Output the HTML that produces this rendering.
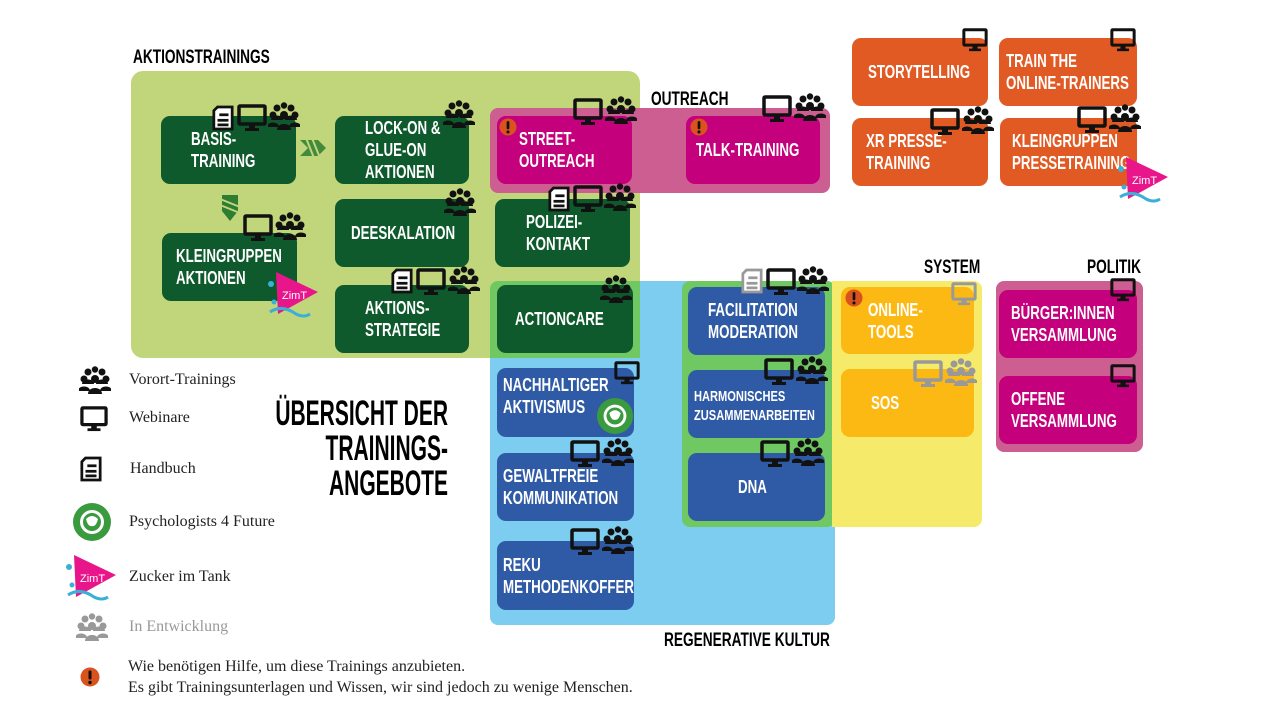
<!DOCTYPE html>
<html><head><meta charset="utf-8">
<style>
body{margin:0;width:1280px;height:720px;background:#fff;position:relative;overflow:hidden;font-family:"Liberation Sans",sans-serif;}
.a{position:absolute;}
.bg{position:absolute;border-radius:12px;}
.b{position:absolute;border-radius:9px;color:#fff;font-weight:bold;font-size:18px;line-height:22px;display:flex;align-items:center;box-sizing:border-box;}
.b span{display:inline-block;transform:scaleX(.74);transform-origin:0 50%;white-space:nowrap}
.g{background:#0e5a2c}.m{background:#c4007c}.u{background:#2f5aa6}.y{background:#fdb913}.o{background:#e15a23}
.h{position:absolute;font-weight:bold;font-size:19px;color:#000;transform:scaleX(.72);transform-origin:0 0;white-space:nowrap}
.lg{position:absolute;font-family:"Liberation Serif",serif;font-size:16px;color:#222;}
svg.i{position:absolute;overflow:visible}
</style></head><body>
<svg width="0" height="0" style="position:absolute">
<defs>
<symbol id="mon" viewBox="0 0 30 28"><rect x="2" y="2" width="26" height="18" fill="none" stroke="currentColor" stroke-width="3.5" rx="1"/><rect x="12" y="20" width="6" height="5" fill="currentColor"/><rect x="8" y="24" width="14" height="3" fill="currentColor"/></symbol>
<symbol id="ppl" viewBox="0 0 32 28"><g fill="currentColor"><circle cx="9" cy="6" r="3.5"/><circle cx="23" cy="6" r="3.5"/><circle cx="16" cy="3.5" r="3.2"/><path d="M3 18c0-6 12-6 12 0z"/><path d="M17 18c0-6 12-6 12 0z"/><circle cx="5" cy="13" r="3.5"/><circle cx="27" cy="13" r="3.5"/><circle cx="16" cy="13" r="4"/><path d="M-1 25c0-6 12-6 12 0z"/><path d="M21 25c0-6 12-6 12 0z"/><path d="M9 28c0-8 14-8 14 0z"/></g></symbol>
<symbol id="doc" viewBox="0 0 24 28"><path d="M6 2h16v24H2V6z" fill="#fff" stroke="currentColor" stroke-width="3"/><rect x="8" y="9" width="10" height="3" fill="currentColor"/><rect x="6" y="15" width="12" height="3" fill="currentColor"/><rect x="6" y="20" width="12" height="3" fill="currentColor"/></symbol>
<symbol id="exc" viewBox="0 0 20 20"><circle cx="10" cy="10" r="9.5" fill="#d9531e"/><rect x="8.5" y="3.5" width="3" height="9" rx="1.2" fill="#111"/><circle cx="10" cy="15.5" r="1.7" fill="#111"/></symbol>
<symbol id="zimt" viewBox="0 0 50 50"><path d="M8 0 L50 20 L10 42z" fill="#e8168a"/><text x="14" y="27" font-size="11" fill="#fff" font-family="Liberation Sans">ZimT</text><path d="M2 40 q12 -8 26 2 q8 4 14 0" stroke="#3ab0d8" stroke-width="3" fill="none"/><circle cx="3" cy="12" r="3" fill="#3ab0d8"/><circle cx="6" cy="30" r="2.5" fill="#3ab0d8"/></symbol>
<symbol id="p4f" viewBox="0 0 40 40"><circle cx="20" cy="20" r="19" fill="#3a9b3e"/><circle cx="20" cy="20" r="12" fill="#fff"/><circle cx="20" cy="20" r="9" fill="#3a9b3e"/><path d="M14 17q6-6 12 0q-2 8-6 7q-4 1-6-7z" fill="#fff"/></symbol>
</defs></svg>

<div class="bg" style="left:131px;top:71px;width:509px;height:287px;background:#c1d67a"></div>
<div class="bg" style="left:490px;top:108px;width:340px;height:85px;background:#cc5e92;border-radius:8px"></div>
<div class="bg" style="left:490px;top:281px;width:345px;height:344px;background:#7ccdf0;border-radius:8px"></div>
<div class="bg" style="left:490px;top:281px;width:150px;height:77px;background:#6fc862;border-radius:8px 0 0 0"></div>
<div class="bg" style="left:682px;top:281px;width:153px;height:246px;background:#6fc862;border-radius:8px"></div>
<div class="bg" style="left:832px;top:281px;width:150px;height:246px;background:#f5ea6a;border-radius:0 8px 8px 0"></div>
<div class="bg" style="left:996px;top:281px;width:147px;height:171px;background:#cc5e92;border-radius:8px"></div>

<div class="h" style="left:133px;top:47px">AKTIONSTRAININGS</div>
<div class="h" style="left:651px;top:89px">OUTREACH</div>
<div class="h" style="left:924px;top:257px">SYSTEM</div>
<div class="h" style="left:1087px;top:257px">POLITIK</div>
<div class="h" style="left:664px;top:630px">REGENERATIVE KULTUR</div>

<div class="b g" style="left:161px;top:116px;width:135px;height:68px;padding-left:30px"><span>BASIS-<br>TRAINING</span></div>
<div class="b g" style="left:335px;top:116px;width:134px;height:68px;padding-left:30px"><span>LOCK-ON &amp;<br>GLUE-ON<br>AKTIONEN</span></div>
<div class="b g" style="left:162px;top:233px;width:135px;height:68px;padding-left:14px"><span>KLEINGRUPPEN<br>AKTIONEN</span></div>
<div class="b g" style="left:335px;top:199px;width:134px;height:68px;padding-left:16px"><span>DEESKALATION</span></div>
<div class="b g" style="left:335px;top:285px;width:134px;height:68px;padding-left:30px"><span>AKTIONS-<br>STRATEGIE</span></div>
<div class="b g" style="left:495px;top:199px;width:135px;height:68px;padding-left:31px"><span>POLIZEI-<br>KONTAKT</span></div>
<div class="b g" style="left:497px;top:285px;width:136px;height:68px;padding-left:18px"><span>ACTIONCARE</span></div>
<div class="b m" style="left:497px;top:116px;width:135px;height:68px;padding-left:22px"><span>STREET-<br>OUTREACH</span></div>
<div class="b m" style="left:686px;top:116px;width:134px;height:68px;padding-left:10px"><span>TALK-TRAINING</span></div>

<svg class="i" style="left:300px;top:138px" width="30" height="20"><g fill="#2e7d32"><path d="M0 2h18l8 8-8 8H0l8-8z" opacity=".85"/></g><g stroke="#c1d67a" stroke-width="2"><line x1="6" y1="0" x2="14" y2="20"/><line x1="12" y1="0" x2="20" y2="20"/></g></svg>
<svg class="i" style="left:220px;top:195px" width="20" height="28"><path d="M2 0h16v16l-8 10l-8-10z" fill="#2e7d32"/><g stroke="#c1d67a" stroke-width="2"><line x1="0" y1="4" x2="20" y2="12"/><line x1="0" y1="10" x2="20" y2="18"/></g></svg>

<div class="b o" style="left:852px;top:38px;width:136px;height:68px;padding-left:16px"><span>STORYTELLING</span></div>
<div class="b o" style="left:999px;top:38px;width:138px;height:68px;padding-left:7px"><span>TRAIN THE<br>ONLINE-TRAINERS</span></div>
<div class="b o" style="left:852px;top:118px;width:136px;height:68px;padding-left:14px"><span>XR PRESSE-<br>TRAINING</span></div>
<div class="b o" style="left:1000px;top:118px;width:137px;height:68px;padding-left:12px"><span>KLEINGRUPPEN<br>PRESSETRAINING</span></div>

<div class="b u" style="left:497px;top:368px;width:137px;height:69px;padding-left:6px;align-items:flex-start;padding-top:6px"><span>NACHHALTIGER<br>AKTIVISMUS</span></div>
<div class="b u" style="left:497px;top:453px;width:137px;height:68px;padding-left:6px"><span>GEWALTFREIE<br>KOMMUNIKATION</span></div>
<div class="b u" style="left:497px;top:541px;width:137px;height:69px;padding-left:6px"><span>REKU<br>METHODENKOFFER</span></div>
<div class="b u" style="left:688px;top:287px;width:137px;height:68px;padding-left:20px"><span>FACILITATION<br>MODERATION</span></div>
<div class="b u" style="left:688px;top:370px;width:137px;height:68px;padding-left:6px;font-size:15px;line-height:19px;padding-top:4px"><span>HARMONISCHES<br>ZUSAMMENARBEITEN</span></div>
<div class="b u" style="left:688px;top:453px;width:137px;height:68px;padding-left:50px"><span>DNA</span></div>

<div class="b y" style="left:841px;top:287px;width:133px;height:67px;padding-left:27px"><span>ONLINE-<br>TOOLS</span></div>
<div class="b y" style="left:841px;top:369px;width:133px;height:68px;padding-left:30px"><span>SOS</span></div>

<div class="b m" style="left:999px;top:290px;width:138px;height:68px;padding-left:12px"><span>BÜRGER:INNEN<br>VERSAMMLUNG</span></div>
<div class="b m" style="left:999px;top:376px;width:138px;height:68px;padding-left:12px"><span>OFFENE<br>VERSAMMLUNG</span></div>

<svg class="i" style="left:212px;top:105px;color:#111" width="22" height="26"><use href="#doc"/></svg>
<svg class="i" style="left:237px;top:104px;color:#111" width="30" height="28"><use href="#mon"/></svg>
<svg class="i" style="left:268px;top:102px;color:#111" width="32" height="28"><use href="#ppl"/></svg>
<svg class="i" style="left:443px;top:100px;color:#111" width="32" height="28"><use href="#ppl"/></svg>
<svg class="i" style="left:243px;top:214px;color:#111" width="30" height="28"><use href="#mon"/></svg>
<svg class="i" style="left:274px;top:212px;color:#111" width="32" height="28"><use href="#ppl"/></svg>
<svg class="i" style="left:444px;top:188px;color:#111" width="32" height="28"><use href="#ppl"/></svg>
<svg class="i" style="left:391px;top:268px;color:#111" width="22" height="26"><use href="#doc"/></svg>
<svg class="i" style="left:416px;top:268px;color:#111" width="30" height="28"><use href="#mon"/></svg>
<svg class="i" style="left:448px;top:266px;color:#111" width="32" height="28"><use href="#ppl"/></svg>
<svg class="i" style="left:573px;top:98px;color:#111" width="30" height="28"><use href="#mon"/></svg>
<svg class="i" style="left:605px;top:96px;color:#111" width="32" height="28"><use href="#ppl"/></svg>
<svg class="i" style="left:548px;top:186px;color:#111" width="22" height="26"><use href="#doc"/></svg>
<svg class="i" style="left:573px;top:185px;color:#111" width="30" height="28"><use href="#mon"/></svg>
<svg class="i" style="left:604px;top:183px;color:#111" width="32" height="28"><use href="#ppl"/></svg>
<svg class="i" style="left:600px;top:275px;color:#111" width="32" height="28"><use href="#ppl"/></svg>
<svg class="i" style="left:762px;top:95px;color:#111" width="30" height="28"><use href="#mon"/></svg>
<svg class="i" style="left:794px;top:93px;color:#111" width="32" height="28"><use href="#ppl"/></svg>
<svg class="i" style="left:962px;top:28px;color:#111" width="26" height="24"><use href="#mon"/></svg>
<svg class="i" style="left:1110px;top:28px;color:#111" width="26" height="24"><use href="#mon"/></svg>
<svg class="i" style="left:930px;top:108px;color:#111" width="30" height="28"><use href="#mon"/></svg>
<svg class="i" style="left:962px;top:106px;color:#111" width="32" height="28"><use href="#ppl"/></svg>
<svg class="i" style="left:1077px;top:106px;color:#111" width="30" height="28"><use href="#mon"/></svg>
<svg class="i" style="left:1109px;top:104px;color:#111" width="32" height="28"><use href="#ppl"/></svg>
<svg class="i" style="left:614px;top:361px;color:#111" width="26" height="24"><use href="#mon"/></svg>
<svg class="i" style="left:570px;top:440px;color:#111" width="30" height="28"><use href="#mon"/></svg>
<svg class="i" style="left:602px;top:438px;color:#111" width="32" height="28"><use href="#ppl"/></svg>
<svg class="i" style="left:570px;top:528px;color:#111" width="30" height="28"><use href="#mon"/></svg>
<svg class="i" style="left:602px;top:526px;color:#111" width="32" height="28"><use href="#ppl"/></svg>
<svg class="i" style="left:741px;top:268px;color:#999" width="22" height="26"><use href="#doc"/></svg>
<svg class="i" style="left:766px;top:268px;color:#111" width="30" height="28"><use href="#mon"/></svg>
<svg class="i" style="left:797px;top:266px;color:#111" width="32" height="28"><use href="#ppl"/></svg>
<svg class="i" style="left:764px;top:358px;color:#111" width="30" height="28"><use href="#mon"/></svg>
<svg class="i" style="left:796px;top:356px;color:#111" width="32" height="28"><use href="#ppl"/></svg>
<svg class="i" style="left:760px;top:440px;color:#111" width="30" height="28"><use href="#mon"/></svg>
<svg class="i" style="left:792px;top:438px;color:#111" width="32" height="28"><use href="#ppl"/></svg>
<svg class="i" style="left:951px;top:282px;color:#999" width="26" height="24"><use href="#mon"/></svg>
<svg class="i" style="left:913px;top:360px;color:#999" width="30" height="28"><use href="#mon"/></svg>
<svg class="i" style="left:945px;top:358px;color:#999" width="32" height="28"><use href="#ppl"/></svg>
<svg class="i" style="left:1110px;top:278px;color:#111" width="26" height="24"><use href="#mon"/></svg>
<svg class="i" style="left:1110px;top:364px;color:#111" width="26" height="24"><use href="#mon"/></svg>
<svg class="i" style="left:499px;top:118px" width="18" height="18"><use href="#exc"/></svg>
<svg class="i" style="left:690px;top:118px" width="18" height="18"><use href="#exc"/></svg>
<svg class="i" style="left:845px;top:289px" width="18" height="18"><use href="#exc"/></svg>
<svg class="i" style="left:596px;top:397px" width="38" height="38"><use href="#p4f"/></svg>
<svg class="i" style="left:268px;top:272px" width="50" height="50"><use href="#zimt"/></svg>
<svg class="i" style="left:1118px;top:157px" width="50" height="50"><use href="#zimt"/></svg>

<div class="a" style="left:148px;top:396px;width:300px;text-align:right;font-weight:bold;font-size:35px;line-height:35px;color:#000;transform:scaleX(.6);transform-origin:100% 0;white-space:nowrap">ÜBERSICHT DER<br>TRAININGS-<br>ANGEBOTE</div>

<svg class="i" style="left:79px;top:366px;color:#111" width="32" height="28"><use href="#ppl"/></svg>
<div class="lg" style="left:129px;top:371px">Vorort-Trainings</div>
<svg class="i" style="left:80px;top:406px;color:#111" width="28" height="26"><use href="#mon"/></svg>
<div class="lg" style="left:129px;top:409px">Webinare</div>
<svg class="i" style="left:80px;top:455px;color:#111" width="22" height="28"><use href="#doc"/></svg>
<div class="lg" style="left:130px;top:460px">Handbuch</div>
<svg class="i" style="left:72px;top:502px" width="40" height="40"><use href="#p4f"/></svg>
<div class="lg" style="left:129px;top:513px">Psychologists 4 Future</div>
<svg class="i" style="left:66px;top:555px" width="50" height="50"><use href="#zimt"/></svg>
<div class="lg" style="left:129px;top:568px">Zucker im Tank</div>
<svg class="i" style="left:76px;top:613px;color:#999" width="32" height="28"><use href="#ppl"/></svg>
<div class="lg" style="left:129px;top:618px;color:#999">In Entwicklung</div>
<svg class="i" style="left:80px;top:667px" width="20" height="20"><use href="#exc"/></svg>
<div class="lg" style="left:128px;top:656px;line-height:21px">Wie benötigen Hilfe, um diese Trainings anzubieten.<br>Es gibt Trainingsunterlagen und Wissen, wir sind jedoch zu wenige Menschen.</div>
</body></html>
